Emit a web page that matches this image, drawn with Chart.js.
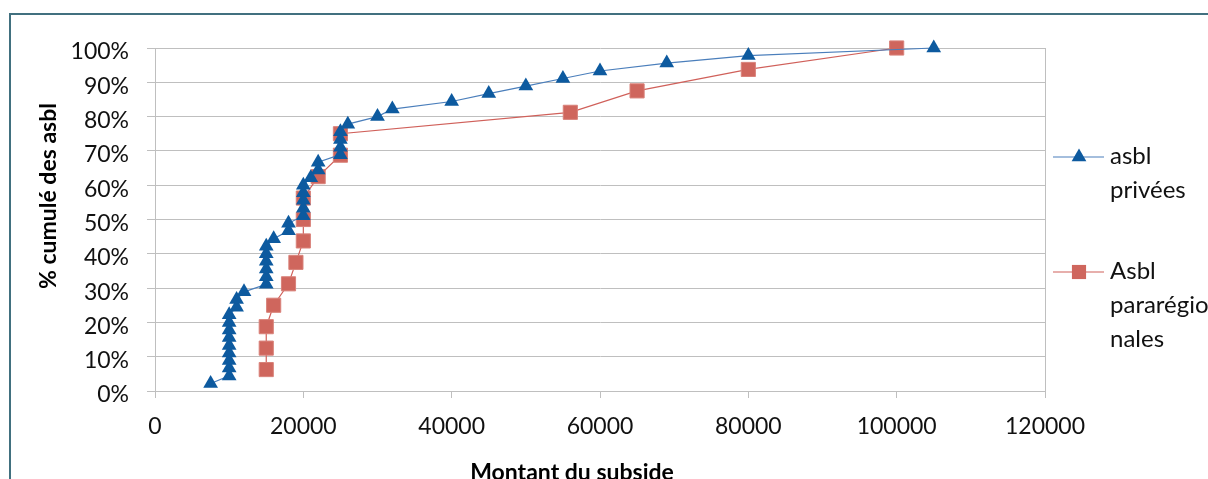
<!DOCTYPE html>
<html>
<head>
<meta charset="utf-8">
<script src="https://cdn.jsdelivr.net/npm/chart.js@4.4.1/dist/chart.umd.min.js"></script>
<style>
  html, body { margin: 0; padding: 0; background: #fff; overflow: hidden; }
  #frame {
    position: absolute; left: 9px; top: 13px;
    width: 1400px; height: 800px;
    border: 2px solid #41707f;
  }
  #chart { position: absolute; left: 0; top: 0; }
</style>
</head>
<body>
<div id="frame"></div>
<canvas id="chart" width="1208" height="479"></canvas>
<script>
/* ------------------------------
   DATA
------------------------------ */
const subsidePrivees = [7500,
  10000, 10000, 10000, 10000, 10000, 10000, 10000, 10000, 10000,
  11000, 11000, 12000,
  15000, 15000, 15000, 15000, 15000, 15000,
  16000, 18000, 18000,
  20000, 20000, 20000, 20000, 20000,
  21000, 22000, 22000,
  25000, 25000, 25000, 25000,
  26000, 30000, 32000, 40000, 45000, 50000, 55000, 60000, 69000, 80000, 105000];
const cumulPrivees = [2.2,
  4.4, 6.7, 8.9, 11.1, 13.3, 15.6, 17.8, 20.0, 22.2,
  24.4, 26.7, 28.9,
  31.1, 33.3, 35.6, 37.8, 40.0, 42.2,
  44.4, 46.7, 48.9,
  51.1, 53.3, 55.6, 57.8, 60.0,
  62.2, 64.4, 66.7,
  68.9, 71.1, 73.3, 75.6,
  77.8, 80.0, 82.2, 84.4, 86.7, 88.9, 91.1, 93.3, 95.6, 97.8, 100];

const subsideParareg = [15000, 15000, 15000, 16000, 18000, 19000, 20000, 20000,
  20000, 22000, 25000, 25000, 56000, 65000, 80000, 100000];
const cumulParareg = [6.25, 12.5, 18.75, 25, 31.25, 37.5, 43.75, 50,
  56.25, 62.5, 68.75, 75, 81.25, 87.5, 93.75, 100];

const seriesNames = ["asbl privées", "Asbl pararégionales"];
const legendLines = [["asbl", "privées"], ["Asbl", "pararégio", "nales"]];
const yTickLabels = ["0%", "10%", "20%", "30%", "40%", "50%", "60%", "70%", "80%", "90%", "100%"];
const xTickLabels = ["0", "20000", "40000", "60000", "80000", "100000", "120000"];
const xTitle = "Montant du subside";
const yTitle = "% cumulé des asbl";

const FONT = "Lato, 'Open Sans', sans-serif";
const GRID = "#bfbfbf";

/* ------------------------------
   TITLES + LEGEND (drawn by hand)
------------------------------ */
const extras = {
  id: "extras",
  afterDraw(chart) {
    const c = chart.ctx;
    c.save();
    c.fillStyle = "#000";
    c.font = "bold 23px " + FONT;
    c.textAlign = "center";
    c.textBaseline = "alphabetic";
    c.fillText(xTitle, 572, 480);

    c.save();
    c.translate(49, 196);
    c.rotate(-Math.PI / 2);
    c.textBaseline = "middle";
    c.fillText(yTitle, 0, 0);
    c.restore();

    // legend
    const rows = [157, 272];
    chart.data.datasets.forEach((ds, i) => {
      const y = rows[i];
      c.strokeStyle = ds.borderColor;
      c.lineWidth = 1.2;
      c.beginPath();
      c.moveTo(1053, y);
      c.lineTo(1104, y);
      c.stroke();
      c.fillStyle = ds.pointBackgroundColor;
      c.beginPath();
      if (ds.pointStyle === "triangle") {
        const r = ds.pointRadius;
        c.moveTo(1079, y - r);
        c.lineTo(1079 + r * 0.866, y + r / 2);
        c.lineTo(1079 - r * 0.866, y + r / 2);
        c.closePath();
      } else {
        const s = ds.pointRadius * Math.SQRT1_2;
        c.rect(1079 - s, y - s, 2 * s, 2 * s);
      }
      c.fill();

      c.fillStyle = "#111";
      c.font = "24px " + FONT;
      c.textAlign = "left";
      c.textBaseline = "middle";
      legendLines[i].forEach((t, j) => c.fillText(t, 1110, y - 1 + j * 34));
    });
    c.restore();
  }
};

/* ------------------------------
   CHART
------------------------------ */
function draw() {
  new Chart(document.getElementById("chart"), {
    type: "scatter",
    data: {
      datasets: [{
        label: seriesNames[0],
        data: subsidePrivees.map((x, i) => ({x: x, y: cumulPrivees[i]})),
        showLine: true,
        clip: false,
        borderColor: "#4a7ebb",
        borderWidth: 1.2,
        pointStyle: "triangle",
        pointRadius: 8.5,
        pointBackgroundColor: "#0d5a9f",
        pointBorderColor: "#0d5a9f",
        pointBorderWidth: 0
      }, {
        label: seriesNames[1],
        data: subsideParareg.map((x, i) => ({x: x, y: cumulParareg[i]})),
        showLine: true,
        clip: false,
        borderColor: "#d0605a",
        borderWidth: 1.2,
        pointStyle: "rect",
        pointRadius: 10,
        pointBackgroundColor: "#cf665d",
        pointBorderColor: "#d9827a",
        pointBorderWidth: 1
      }]
    },
    options: {
      responsive: false,
      animation: false,
      devicePixelRatio: 1,
      layout: { padding: { left: 0, right: 163, top: 48, bottom: 0 } },
      plugins: { legend: { display: false }, tooltip: { enabled: false } },
      scales: {
        x: {
          type: "linear",
          min: 0, max: 120000,
          afterFit: s => { s.height = 88; },
          ticks: { stepSize: 20000, padding: 15, color: "#111",
                   font: { family: FONT, size: 23 },
                   callback: v => xTickLabels[Math.round(v / 20000)] },
          grid: {
            color: ctx => ctx.tick && ctx.tick.value === 120000 ? GRID : "transparent",
            tickColor: GRID, tickLength: 7, lineWidth: 1
          },
          border: { color: GRID }
        },
        y: {
          min: 0, max: 100,
          afterFit: s => { s.width = 155; },
          ticks: { stepSize: 10, padding: 18, labelOffset: 4, color: "#111",
                   font: { family: FONT, size: 23 },
                   callback: v => yTickLabels[Math.round(v / 10)] },
          grid: { color: GRID, tickColor: GRID, tickLength: 8, lineWidth: 1 },
          border: { color: GRID }
        }
      }
    },
    plugins: [extras]
  });
}

document.fonts.load("23px Lato").then(() => document.fonts.load("bold 23px Lato")).then(draw, draw);
</script>
</body>
</html>
